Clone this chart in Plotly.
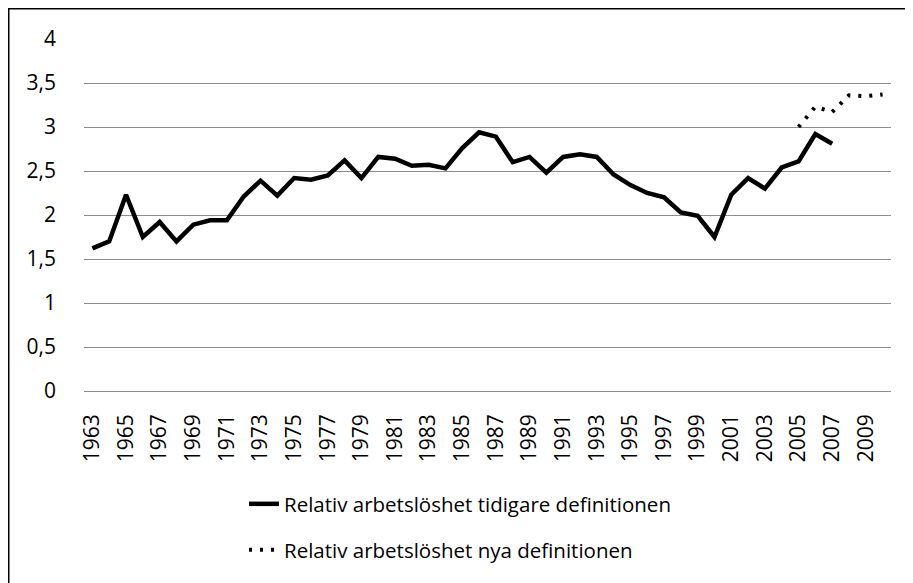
import plotly.graph_objects as go

years_old = list(range(1963, 2008))
values_old = [1.62, 1.70, 2.23, 1.75, 1.92, 1.70, 1.89, 1.94, 1.94, 2.21,
              2.39, 2.22, 2.42, 2.40, 2.45, 2.62, 2.42, 2.66, 2.64, 2.56,
              2.57, 2.53, 2.76, 2.94, 2.89, 2.60, 2.66, 2.48, 2.66, 2.69,
              2.66, 2.46, 2.34, 2.25, 2.20, 2.03, 1.99, 1.75, 2.23, 2.42,
              2.30, 2.54, 2.61, 2.92, 2.81]
years_new = list(range(2005, 2011))
values_new = [3.00, 3.23, 3.17, 3.36, 3.35, 3.37]

name_old = "Relativ arbetslöshet tidigare definitionen"
name_new = "Relativ arbetslöshet nya definitionen"

FONT = "Open Sans"

fig = go.Figure()
fig.add_trace(go.Scatter(x=years_old, y=values_old, mode="lines", name=name_old,
                         line=dict(color="black", width=4.5), legend="legend"))
fig.add_trace(go.Scatter(x=years_new, y=values_new, mode="lines", name=name_new,
                         line=dict(color="black", width=4, dash="3px,8px"),
                         legend="legend2"))

# page body has an 8px margin: work in page pixels, convert to figure pixels
OFF = 8
W, H = 913 - OFF, 583 - OFF
L, R, T, B = 84 - OFF, 891 - OFF, 39 - OFF, 391 - OFF
pw, ph = R - L, B - T

def px2x(p):
    return (p - OFF - L) / pw

def py2y(p):
    return (B - (p - OFF)) / ph

leg_font = dict(family=FONT, size=20.5, color="black")
tick_font = dict(family=FONT, size=21, color="black")

fig.update_layout(
    width=W, height=H,
    margin=dict(l=L, r=W - R, t=T, b=H - B, autoexpand=False),
    paper_bgcolor="white", plot_bgcolor="white",
    separators=", ",
    font=dict(family=FONT, size=20, color="black"),
    showlegend=True,
    legend=dict(x=px2x(244), y=py2y(484), xanchor="left", yanchor="top",
                font=leg_font, bgcolor="rgba(0,0,0,0)"),
    legend2=dict(x=px2x(244), y=py2y(530), xanchor="left", yanchor="top",
                 font=leg_font, bgcolor="rgba(0,0,0,0)"),
    xaxis=dict(range=[1962.5, 2010.5], tickmode="linear", tick0=1963, dtick=2,
               tickangle=-90, showgrid=False, zeroline=False, showline=False,
               automargin=False,
               ticks="", ticklabelstandoff=18, tickfont=tick_font),
    yaxis=dict(range=[0, 4], tickmode="linear", tick0=0, dtick=0.5,
               showgrid=True, gridcolor="#8c8c8c", gridwidth=1.3,
               zeroline=True, zerolinecolor="#8c8c8c", zerolinewidth=1.3,
               showline=False, ticks="", ticklabelstandoff=27, automargin=False,
               tickfont=tick_font),
    shapes=[dict(type="rect", xref="paper", yref="paper",
                 x0=px2x(8.5), x1=px2x(913 + 20), y0=py2y(583 + 20), y1=py2y(8.5),
                 line=dict(color="black", width=2), fillcolor="rgba(0,0,0,0)",
                 layer="above")],
)

fig.write_html("out.html")
